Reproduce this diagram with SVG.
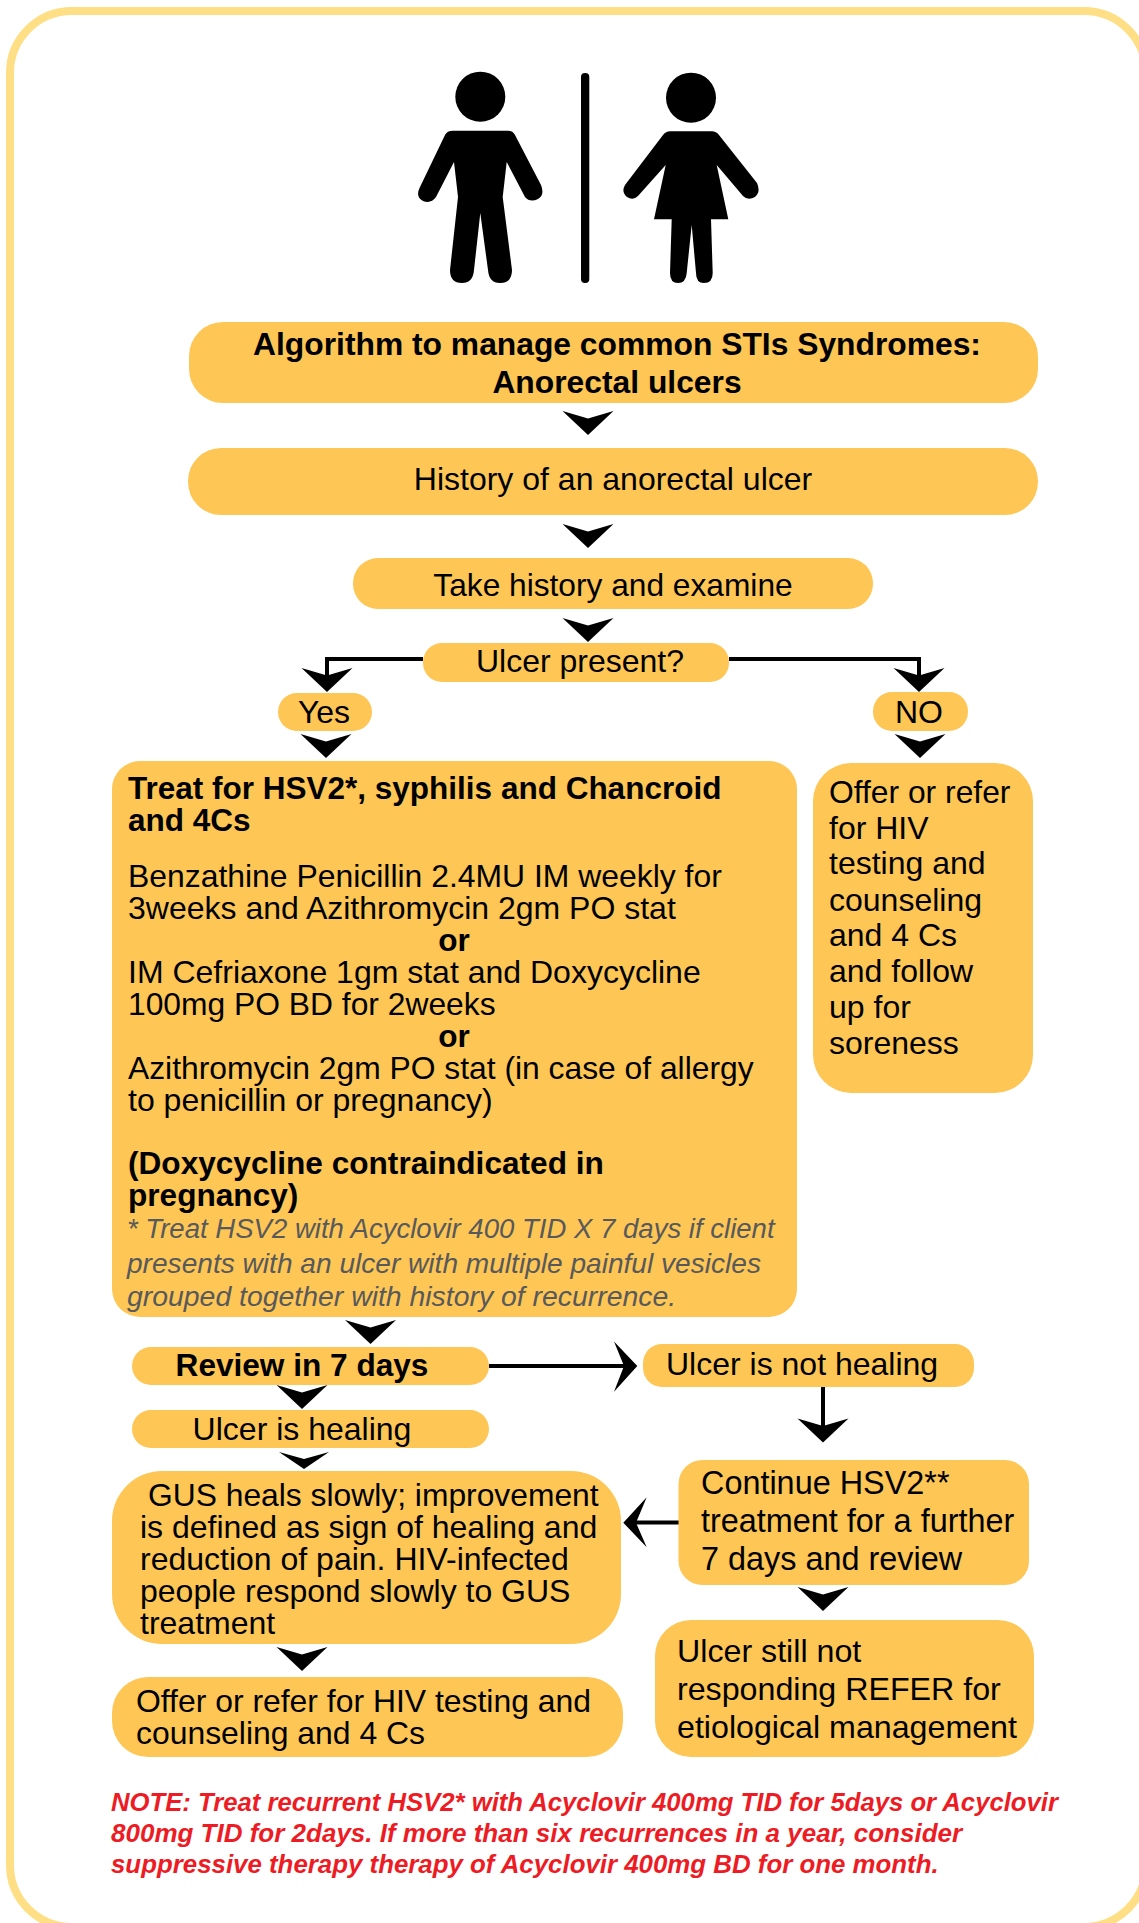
<svg xmlns="http://www.w3.org/2000/svg" width="1139" height="1923" viewBox="0 0 1139 1923">
<style>
.n{fill:#FEC655}
text{font-family:"Liberation Sans",Arial,sans-serif;fill:#000;font-size:32px}
.c{text-anchor:middle}
.b{font-weight:bold;font-size:31.6px}
.g{font-style:italic;fill:#58595B;font-size:27.6px}
.r{font-style:italic;font-weight:bold;fill:#ED1C24;font-size:25.7px}
.l{fill:none;stroke:#000;stroke-width:4}
</style>
<defs>
<path id="h" d="M-25.5 0L0 7.5L25.5 0L0 24Z" fill="#000"/>
</defs>
<rect id="frame" x="10" y="11" width="1136" height="1916" rx="62" ry="62" fill="#fff" stroke="#FEDF85" stroke-width="8"/>
<g id="figures" fill="#000">
<circle cx="480.3" cy="96.7" r="25"/>
<path d="M453 130.7L508 130.7Q513 130.7 515 135L541 185Q545 195 538 199Q530 203 525 197L506.7 162L502.7 197L512 270Q512 283 500 283Q489 283 488 270L480.3 213L474 270Q473 283 462 283Q450 283 450 270L458 197L454 162L436 197Q431 204 423 201Q415 197 420 187L445 135Q447 130.7 453 130.7Z"/>
<circle cx="691" cy="97.7" r="25"/>
<path d="M670 131.3L712 131.3Q716 131.3 719 135L757 183Q761 192 755 197Q748 201 743 196L716.7 165L728.3 219.3L711 219.3L712.7 273Q712.7 283 704 283Q696 283 696 273L691.7 225L686.7 273Q686 283 678 283Q670 283 670 273L671.7 219.3L654 219.3L665.7 165L638 196Q633 201 627 197Q621 192 625 185L663 135Q666 131.3 670 131.3Z"/>
<rect x="581" y="73" width="8.3" height="210" rx="4"/>
</g>
<g id="connectors">
<use href="#h" x="588" y="411"/>
<use href="#h" x="588" y="524"/>
<use href="#h" x="588" y="618"/>
<path class="l" d="M423 659H327V680"/>
<use href="#h" x="327" y="668"/>
<path class="l" d="M729 659H919V680"/>
<use href="#h" x="919" y="668"/>
<use href="#h" x="326" y="734"/>
<use href="#h" x="920" y="734"/>
<use href="#h" x="370.5" y="1320"/>
<use href="#h" x="302" y="1385"/>
<path d="M279 1452L304 1459L329 1452L304 1469Z"/>
<path class="l" d="M489 1366H628"/>
<path d="M614 1341.5L637.3 1366L614 1391.7L624 1366Z"/>
<path class="l" d="M823 1387V1430"/>
<use href="#h" x="823" y="1418.5"/>
<path class="l" d="M679 1522.5H632"/>
<path d="M646.7 1497.3L623.3 1522.7L646.7 1547.3L636 1522.7Z"/>
<use href="#h" x="823" y="1587"/>
<use href="#h" x="302" y="1647"/>
</g>
<g id="title"><rect class="n" x="189" y="322" width="849" height="81" rx="34"/>
<text class="c b" x="617" y="355" style="font-size:31.8px">Algorithm to manage common STIs Syndromes:</text>
<text class="c b" x="617" y="393" style="font-size:31.8px">Anorectal ulcers</text></g>
<g id="history"><rect class="n" x="188" y="448" width="850" height="67" rx="33"/>
<text class="c" x="613" y="490">History of an anorectal ulcer</text></g>
<g id="take"><rect class="n" x="353" y="558" width="520" height="51" rx="25"/>
<text class="c" x="613" y="596" style="font-size:31.7px">Take history and examine</text></g>
<g id="present"><rect class="n" x="423" y="643" width="306" height="39" rx="19"/>
<text class="c" x="580" y="672">Ulcer present?</text></g>
<g id="yes"><rect class="n" x="278" y="693" width="94" height="38" rx="19"/>
<text class="c" x="324" y="723">Yes</text></g>
<g id="no"><rect class="n" x="873" y="692" width="95" height="39" rx="19"/>
<text class="c" x="919" y="723">NO</text></g>
<g id="treat"><rect class="n" x="112" y="761" width="685" height="556" rx="28"/>
<text class="b" x="128" y="799" style="font-size:31.5px">Treat for HSV2*, syphilis and Chancroid</text>
<text class="b" x="128" y="831" style="font-size:31.5px">and 4Cs</text>
<text x="128" y="887" style="font-size:31.9px">Benzathine Penicillin 2.4MU IM weekly for</text>
<text x="128" y="919">3weeks and Azithromycin 2gm PO stat</text>
<text class="c b" x="454" y="951">or</text>
<text x="128" y="983">IM Cefriaxone 1gm stat and Doxycycline</text>
<text x="128" y="1015" style="font-size:31.8px">100mg PO BD for 2weeks</text>
<text class="c b" x="454" y="1047">or</text>
<text x="128" y="1079" style="font-size:31.8px">Azithromycin 2gm PO stat (in case of allergy</text>
<text x="128" y="1111">to penicillin or pregnancy)</text>
<text class="b" x="128" y="1174">(Doxycycline contraindicated in</text>
<text class="b" x="128" y="1206">pregnancy)</text>
<text class="g" x="127" y="1238" style="font-size:27.55px">* Treat HSV2 with Acyclovir 400 TID X 7 days if client</text>
<text class="g" x="127" y="1273" style="font-size:28.1px">presents with an ulcer with multiple painful vesicles</text>
<text class="g" x="127" y="1306" style="font-size:28.4px">grouped together with history of recurrence.</text></g>
<g id="offer"><rect class="n" x="813" y="763" width="220" height="330" rx="38"/>
<text x="829" y="803" style="font-size:31.8px">Offer or refer</text>
<text x="829" y="839">for HIV</text>
<text x="829" y="874">testing and</text>
<text x="829" y="911">counseling</text>
<text x="829" y="946">and 4 Cs</text>
<text x="829" y="982">and follow</text>
<text x="829" y="1018">up for</text>
<text x="829" y="1054">soreness</text></g>
<g id="review"><rect class="n" x="132" y="1347" width="357" height="38" rx="19"/>
<text class="c b" x="302" y="1376">Review in 7 days</text></g>
<g id="notheal"><rect class="n" x="643" y="1344" width="331" height="43" rx="19"/>
<text x="666" y="1375">Ulcer is not healing</text></g>
<g id="heal"><rect class="n" x="132" y="1410" width="357" height="38" rx="19"/>
<text class="c" x="302" y="1440">Ulcer is healing</text></g>
<g id="gus"><rect class="n" x="112" y="1471" width="509" height="173" rx="50"/>
<text x="148" y="1506" style="font-size:31.8px">GUS heals slowly; improvement</text>
<text x="140" y="1538">is defined as sign of healing and</text>
<text x="140" y="1570">reduction of pain. HIV-infected</text>
<text x="140" y="1602">people respond slowly to GUS</text>
<text x="140" y="1634">treatment</text></g>
<g id="continue"><rect class="n" x="678.5" y="1460" width="350.5" height="125" rx="24"/>
<text x="701" y="1494" style="font-size:32.4px">Continue HSV2**</text>
<text x="701" y="1532" style="font-size:32.4px">treatment for a further</text>
<text x="701" y="1570" style="font-size:32.4px">7 days and review</text></g>
<g id="still"><rect class="n" x="655" y="1620" width="379" height="137" rx="36"/>
<text x="677" y="1662" style="font-size:32.2px">Ulcer still not</text>
<text x="677" y="1700" style="font-size:32.2px">responding REFER for</text>
<text x="677" y="1738" style="font-size:32.2px">etiological management</text></g>
<g id="offer2"><rect class="n" x="112" y="1677" width="511" height="80" rx="36"/>
<text x="136" y="1712" style="font-size:31.9px">Offer or refer for HIV testing and</text>
<text x="136" y="1744" style="font-size:31.9px">counseling and 4 Cs</text></g>
<g id="note">
<text class="r" x="111" y="1811">NOTE: Treat recurrent HSV2* with Acyclovir 400mg TID for 5days or Acyclovir</text>
<text class="r" x="111" y="1842" style="font-size:26px">800mg TID for 2days. If more than six recurrences in a year, consider</text>
<text class="r" x="111" y="1873" style="font-size:25.85px">suppressive therapy therapy of Acyclovir 400mg BD for one month.</text>
</g>
</svg>
